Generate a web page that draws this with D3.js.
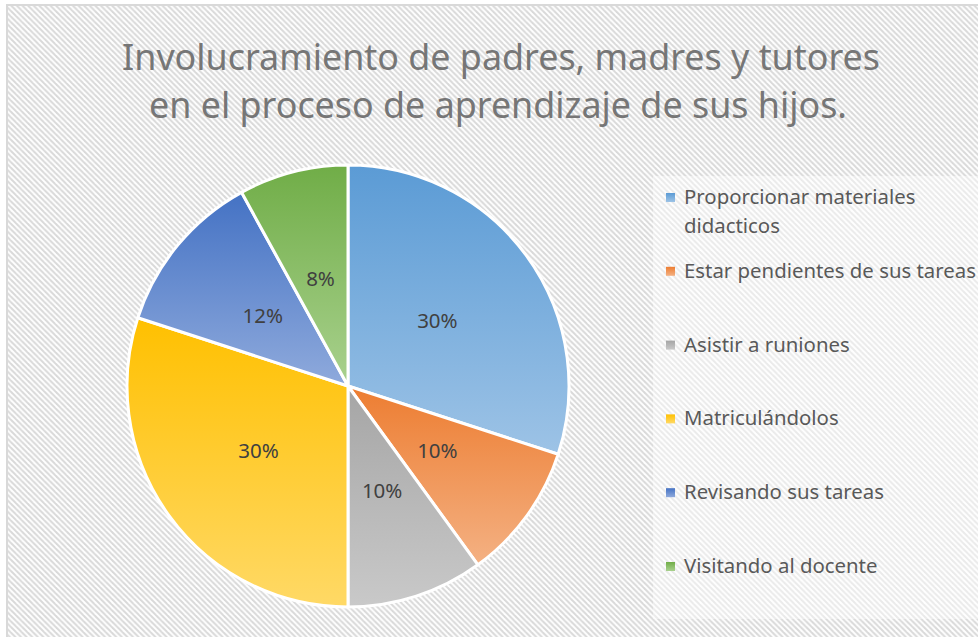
<!DOCTYPE html>
<html>
<head>
<meta charset="utf-8">
<script src="https://cdn.jsdelivr.net/npm/d3@7"></script>
<style>
  body { margin: 0; background: #fff; }
  svg { display: block; }
</style>
</head>
<body>
<div id="chart"></div>
<script>
// chart data
const categories = [
  'Proporcionar materiales\ndidacticos',
  'Estar pendientes de sus tareas',
  'Asistir a runiones',
  'Matriculándolos',
  'Revisando sus tareas',
  'Visitando al docente'
];
const values = [30, 10, 10, 30, 12, 8];
const baseColors = ['#5B9BD5', '#ED7D31', '#A5A5A5', '#FFC000', '#4472C4', '#70AD47'];
const lightColors = ['#9DC3E6', '#F4B183', '#C9C9C9', '#FFD966', '#8FAADC', '#A9D18E'];
const titleLines = [
  'Involucramiento de padres, madres y tutores',
  'en el proceso de aprendizaje de sus hijos.'
];

const W = 978, H = 637;
const fontFamily = '"Noto Sans", "Open Sans", sans-serif';

const svg = d3.select('#chart').append('svg')
  .attr('width', W)
  .attr('height', H);

const defs = svg.append('defs');

// diagonal hatch background
const P = 5.6;
const hatch = defs.append('pattern')
  .attr('id', 'hatch')
  .attr('patternUnits', 'userSpaceOnUse')
  .attr('width', P)
  .attr('height', P);
hatch.append('rect').attr('width', P).attr('height', P).attr('fill', '#fff');
[[-2, P - 2, 2, P + 2], [-1, -1, P + 1, P + 1], [P - 2, -2, P + 2, 2]].forEach(function (l) {
  hatch.append('line')
    .attr('x1', l[0]).attr('y1', l[1]).attr('x2', l[2]).attr('y2', l[3])
    .attr('stroke', '#d9d9d9')
    .attr('stroke-width', 2);
});

// one vertical gradient per slice
baseColors.forEach(function (c, i) {
  const g = defs.append('linearGradient')
    .attr('id', 'grad' + i)
    .attr('x1', 0).attr('y1', 0).attr('x2', 0).attr('y2', 1);
  g.append('stop').attr('offset', '0%').attr('stop-color', c);
  g.append('stop').attr('offset', '100%').attr('stop-color', lightColors[i]);
});

// chart area
svg.append('rect')
  .attr('x', 7)
  .attr('y', 5)
  .attr('width', W + 10)
  .attr('height', H + 10)
  .attr('fill', 'url(#hatch)')
  .attr('stroke', '#d9d9d9')
  .attr('stroke-width', 2);

// fit a text element to a target width
function fitText(sel, size, target) {
  sel.attr('font-size', size);
  const w = sel.node().getComputedTextLength();
  sel.attr('font-size', size * target / w);
  return size * target / w;
}

// title
const title = svg.append('g')
  .attr('font-family', fontFamily)
  .attr('fill', '#767676')
  .attr('text-anchor', 'middle');
const t1 = title.append('text').attr('x', 501).attr('y', 70).text(titleLines[0]);
const titleSize = fitText(t1, 36, 758);
title.append('text').attr('x', 498).attr('y', 118)
  .attr('font-size', titleSize)
  .text(titleLines[1]);

// pie
const cx = 348, cy = 386, radius = 221;
const pie = d3.pie().sort(null).value(function (d) { return d; });
const arc = d3.arc().innerRadius(0).outerRadius(radius);
const arcs = pie(values);

const pieG = svg.append('g').attr('transform', 'translate(' + cx + ',' + cy + ')');

pieG.selectAll('path')
  .data(arcs)
  .join('path')
  .attr('d', arc)
  .attr('fill', function (d, i) { return 'url(#grad' + i + ')'; })
  .attr('stroke', '#fff')
  .attr('stroke-width', 3)
  .attr('stroke-linejoin', 'round');

const total = d3.sum(values);
pieG.selectAll('text.pct')
  .data(arcs)
  .join('text')
  .attr('class', 'pct')
  .attr('transform', function (d) { return 'translate(' + arc.centroid(d) + ')'; })
  .attr('text-anchor', 'middle')
  .attr('dy', '0.35em')
  .attr('font-family', fontFamily)
  .attr('font-size', 20.5)
  .attr('fill', '#404040')
  .text(function (d) { return Math.round(d.value / total * 100) + '%'; });

// legend
svg.append('rect')
  .attr('x', 653)
  .attr('y', 176)
  .attr('width', 340)
  .attr('height', 443)
  .attr('fill', '#fff')
  .attr('opacity', 0.45);

const legend = svg.append('g')
  .attr('font-family', fontFamily)
  .attr('fill', '#595959');

const probe = legend.append('text').text(categories[1]);
const legendSize = fitText(probe, 20, 292);
probe.remove();

const rowY = d3.scalePoint()
  .domain(d3.range(categories.length))
  .range([204, 573]);

const rows = legend.selectAll('g.row')
  .data(categories)
  .join('g')
  .attr('class', 'row')
  .attr('transform', function (d, i) { return 'translate(0,' + rowY(i) + ')'; });

rows.append('rect')
  .attr('x', 666)
  .attr('y', -11)
  .attr('width', 9)
  .attr('height', 9)
  .attr('fill', function (d, i) { return 'url(#grad' + i + ')'; });

rows.append('text')
  .attr('font-size', legendSize)
  .selectAll('tspan')
  .data(function (d) { return d.split('\n'); })
  .join('tspan')
  .attr('x', 684)
  .attr('y', function (d, j) { return j * 29; })
  .text(function (d) { return d; });
</script>
</body>
</html>
